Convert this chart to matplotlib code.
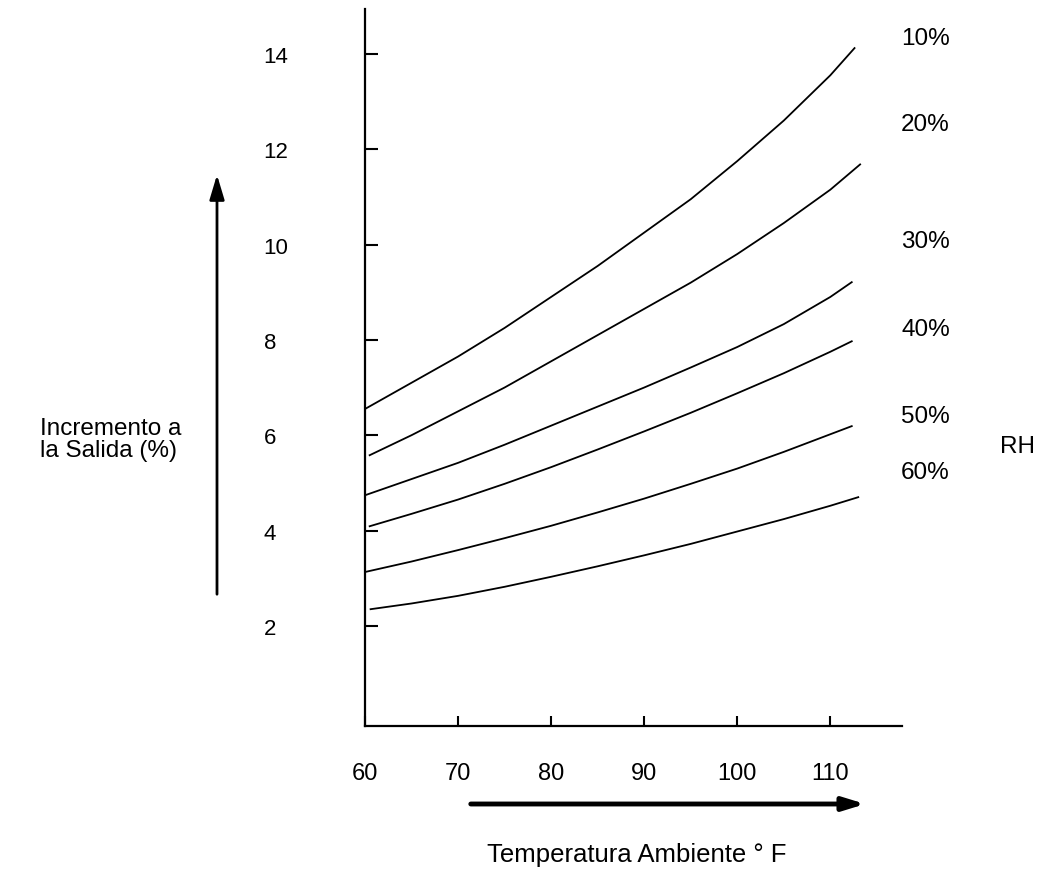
import matplotlib.pyplot as plt
import numpy as np

plt.rcParams['font.family'] = ['Liberation Sans', 'DejaVu Sans']

# valores (temperatura F, incremento %)
t10 = [60, 65, 70, 75, 80, 85, 90, 95, 100, 105, 110, 112.6]
rh10 = [6.55, 7.1, 7.65, 8.25, 8.9, 9.55, 10.25, 10.95, 11.75, 12.6, 13.55, 14.12]

t20 = [60.5, 65, 70, 75, 80, 85, 90, 95, 100, 105, 110, 113.2]
rh20 = [5.58, 6.0, 6.5, 7.0, 7.55, 8.1, 8.65, 9.2, 9.8, 10.45, 11.15, 11.68]

t30 = [60, 65, 70, 75, 80, 85, 90, 95, 100, 105, 110, 112.3]
rh30 = [4.74, 5.08, 5.42, 5.8, 6.2, 6.6, 7.0, 7.42, 7.85, 8.33, 8.9, 9.21]

t40 = [60.5, 65, 70, 75, 80, 85, 90, 95, 100, 105, 110, 112.3]
rh40 = [4.09, 4.35, 4.65, 4.98, 5.33, 5.7, 6.08, 6.47, 6.88, 7.3, 7.75, 7.97]

t50 = [60, 65, 70, 75, 80, 85, 90, 95, 100, 105, 110, 112.3]
rh50 = [3.13, 3.35, 3.59, 3.84, 4.1, 4.38, 4.67, 4.98, 5.3, 5.65, 6.02, 6.19]

t60 = [60.6, 65, 70, 75, 80, 85, 90, 95, 100, 105, 110, 113]
rh60 = [2.35, 2.47, 2.63, 2.82, 3.03, 3.25, 3.48, 3.72, 3.98, 4.24, 4.52, 4.7]

rh_labels = ['10%', '20%', '30%', '40%', '50%', '60%']
xticks = [60, 70, 80, 90, 100, 110]
yticks = [2, 4, 6, 8, 10, 12, 14]

W, H = 1037, 870
fig = plt.figure(figsize=(W / 100, H / 100), dpi=100)
ax = fig.add_axes([365 / W, 1 - 727 / H, (902 - 365) / W, (727 - 10) / H])

for t, r in [(t10, rh10), (t20, rh20), (t30, rh30), (t40, rh40), (t50, rh50), (t60, rh60)]:
    ax.plot(t, r, color='black', lw=1.3)

ax.set_xlim(60, 117.7)
ax.set_ylim(-0.1, 14.94)
ax.spines['top'].set_visible(False)
ax.spines['right'].set_visible(False)
ax.spines['left'].set_linewidth(1.6)
ax.spines['bottom'].set_linewidth(1.6)

ax.set_xticks(xticks)
ax.set_yticks(yticks)
ax.tick_params(axis='x', direction='in', length=7, width=1.5, pad=26, labelsize=17)
ax.tick_params(axis='y', direction='in', length=9.5, width=1.5, pad=73, labelsize=16)
for lab in ax.get_yticklabels():
    lab.set_horizontalalignment('left')

# etiquetas de humedad relativa
ylab_pos = [39, 125, 242, 330, 417, 473]
for s, yp in zip(rh_labels, ylab_pos):
    fig.text(901 / W, 1 - yp / H, s, fontsize=17.5, va='center', ha='left')
fig.text(1000 / W, 1 - 447 / H, 'RH', fontsize=17.5, va='center', ha='left')

fig.text(40 / W, 1 - 440 / H, 'Incremento a\nla Salida (%)', fontsize=17.5,
         va='center', ha='left', linespacing=1.0)
fig.text(637 / W, 1 - 855 / H, 'Temperatura Ambiente ° F', fontsize=18.5,
         va='center', ha='center')

# flechas
ax.annotate('', xy=(217, H - 173), xytext=(217, H - 598), xycoords='figure pixels',
            arrowprops=dict(arrowstyle='-|>,head_length=1.5,head_width=0.45',
                            color='black', lw=2))
ax.annotate('', xy=(868, H - 805), xytext=(468, H - 805), xycoords='figure pixels',
            arrowprops=dict(arrowstyle='-|>,head_length=1.3,head_width=0.4',
                            color='black', lw=3.5))

plt.savefig('out.png', dpi=100)
